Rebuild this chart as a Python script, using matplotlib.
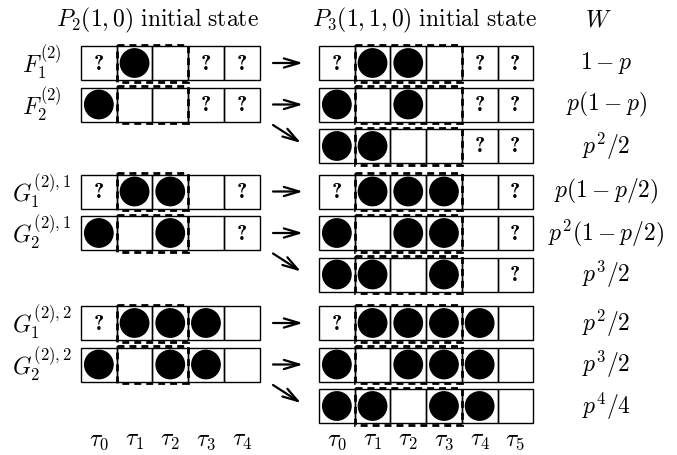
import os
import matplotlib
matplotlib.use("Agg")
import matplotlib.pyplot as plt
from matplotlib.patches import Rectangle, Circle
from matplotlib.font_manager import FontProperties

plt.rcParams['mathtext.fontset'] = 'cm'
plt.rcParams['font.family'] = 'DejaVu Serif'

# ---- data ----
# 'o' = occupied (black disc), '?' = unknown, '.' = empty
left_states = ["?o.??", "o..??",
               "?oo.?", "o.o.?",
               "?ooo.", "o.oo."]
right_states = ["?oo.??", "o.o.??", "oo..??",
                "?ooo.?", "o.oo.?", "oo.o.?",
                "?oooo.", "o.ooo.", "oo.oo."]
row_labels = [r"$F_1^{(2)}$", r"$F_2^{(2)}$",
              r"$G_1^{(2),1}$", r"$G_2^{(2),1}$",
              r"$G_1^{(2),2}$", r"$G_2^{(2),2}$"]
weights = [r"$1-p$", r"$p(1-p)$", r"$p^2/2$",
           r"$p(1-p/2)$", r"$p^2(1-p/2)$", r"$p^3/2$",
           r"$p^2/2$", r"$p^3/2$", r"$p^4/4$"]
left_taus = [r"$\tau_0$", r"$\tau_1$", r"$\tau_2$", r"$\tau_3$", r"$\tau_4$"]
right_taus = [r"$\tau_0$", r"$\tau_1$", r"$\tau_2$", r"$\tau_3$", r"$\tau_4$", r"$\tau_5$"]
left_title = r"$P_2(1,0)\ \mathrm{initial\ state}$"
right_title = r"$P_3(1,1,0)\ \mathrm{initial\ state}$"
w_title = r"$W$"

# ---- layout ----
W_PX, H_PX = 677, 455
fig = plt.figure(figsize=(W_PX / 100, H_PX / 100), dpi=100)
ax = fig.add_axes([0, 0, 1, 1])
ax.set_xlim(0, W_PX)
ax.set_ylim(H_PX, 0)
ax.axis('off')

bold_path = os.path.join(matplotlib.get_data_path(), 'fonts', 'ttf', 'cmb10.ttf')
if os.path.exists(bold_path):
    qfont = FontProperties(fname=bold_path, size=15.5)
else:
    qfont = FontProperties(family='DejaVu Serif', weight='bold', size=13)

cw, ch = 35.7, 34.0
left_x0, right_x0 = 81.0, 319.0
group_tops = [46.0, 174.5, 306.0]
pitch = 41.5
rad = 14.2
FS = 17


def draw_row(x0, top, state, dash_cells):
    for i, s in enumerate(state):
        x = x0 + i * cw
        ax.add_patch(Rectangle((x, top), cw, ch, fill=False, ec='black', lw=1.0, zorder=2))
        cx, cy = x + cw / 2, top + ch / 2
        if s == 'o':
            ax.add_patch(Circle((cx, cy), rad, fc='black', ec='black', zorder=3))
        elif s == '?':
            ax.text(cx, cy + 1, "?", ha='center', va='center', fontproperties=qfont, zorder=3)
    d0, d1 = dash_cells
    ax.add_patch(Rectangle((x0 + d0 * cw, top - 1.5), (d1 - d0) * cw, ch + 3,
                           fill=False, ec='black', lw=2.0, ls=(0, (2.5, 1.8)), zorder=4))


def arrow(x_start, y_start, x_end, y_end):
    ax.annotate("", xy=(x_end, y_end), xytext=(x_start, y_start),
                arrowprops=dict(arrowstyle="->,head_length=1.1,head_width=0.33",
                                lw=1.6, color='black', shrinkA=0, shrinkB=0))


for g in range(3):
    gtop = group_tops[g]
    for r in range(2):
        top = gtop + r * pitch
        idx = g * 2 + r
        draw_row(left_x0, top, left_states[idx], (1, 3))
        ax.text(42, top + ch / 2, row_labels[idx], ha='center', va='center', fontsize=FS)
    for r in range(3):
        top = gtop + r * pitch
        idx = g * 3 + r
        draw_row(right_x0, top, right_states[idx], (1, 4))
        ax.text(606, top + ch / 2, weights[idx], ha='center', va='center', fontsize=FS)
        if r < 2:
            arrow(273, top + ch / 2, 303, top + ch / 2)
        else:
            arrow(273, top - 4, 301, top + 14)

# titles
ax.text(157, 20, left_title, ha='center', va='center', fontsize=FS)
ax.text(425, 20, right_title, ha='center', va='center', fontsize=FS)
ax.text(598, 20, w_title, ha='center', va='center', fontsize=FS)

# tau labels
for i, t in enumerate(left_taus):
    ax.text(left_x0 + (i + 0.5) * cw, 441, t, ha='center', va='center', fontsize=FS)
for i, t in enumerate(right_taus):
    ax.text(right_x0 + (i + 0.5) * cw, 441, t, ha='center', va='center', fontsize=FS)

fig.savefig("out.png", dpi=100)
